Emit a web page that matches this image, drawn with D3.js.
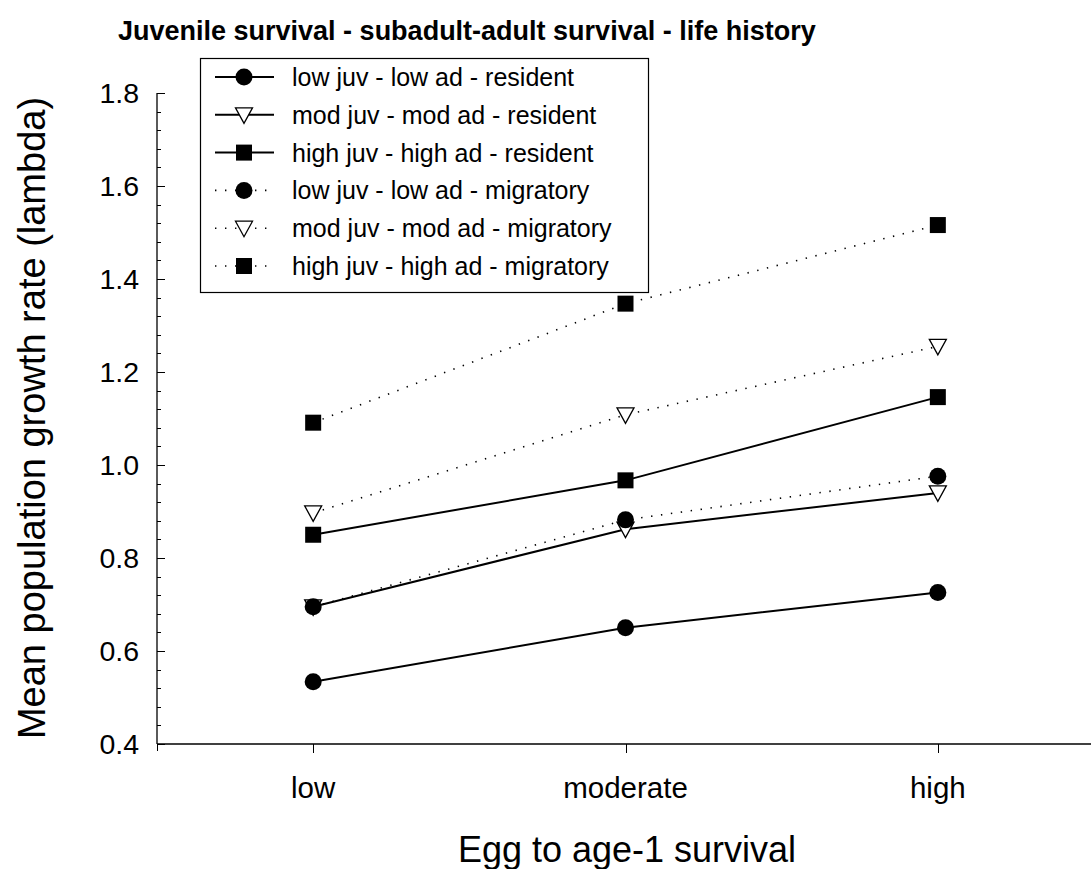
<!DOCTYPE html>
<html>
<head>
<meta charset="utf-8">
<script src="https://cdn.jsdelivr.net/npm/d3@7"></script>
<style>
  body { margin: 0; background: #fff; }
  text { font-family: Arial, "Liberation Sans", sans-serif; fill: #000; }
</style>
</head>
<body>
<svg width="1091" height="869"></svg>
<script>
var svg = d3.select("svg");

// data
var categories = ["low", "moderate", "high"];
var yTicks = [0.4, 0.6, 0.8, 1.0, 1.2, 1.4, 1.6, 1.8];

var lowRes  = [0.534, 0.650, 0.726];
var modRes  = [0.695, 0.862, 0.940];
var highRes = [0.850, 0.967, 1.146];
var lowMig  = [0.695, 0.882, 0.976];
var modMig  = [0.897, 1.108, 1.255];
var highMig = [1.091, 1.347, 1.516];

var seriesNames = [
  "low juv - low ad - resident",
  "mod juv - mod ad - resident",
  "high juv - high ad - resident",
  "low juv - low ad - migratory",
  "mod juv - mod ad - migratory",
  "high juv - high ad - migratory"
];
var seriesValues = [lowRes, modRes, highRes, lowMig, modMig, highMig];
var seriesSymbols = ["circle", "triangle", "square", "circle", "triangle", "square"];
var seriesDotted = [false, false, false, true, true, true];

var series = seriesNames.map(function(name, i) {
  return { name: name, values: seriesValues[i], symbol: seriesSymbols[i], dotted: seriesDotted[i] };
});

var x = d3.scalePoint().domain(categories).range([157, 1094]).padding(0.5);
var y = d3.scaleLinear().domain([0.4, 1.8]).range([744, 93]);

// title
svg.append("text")
    .attr("x", 118)
    .attr("y", 40)
    .style("font-size", "27px")
    .style("font-weight", "bold")
    .text("Juvenile survival - subadult-adult survival - life history");

// y axis: ticks inside, minor every 0.04
var yAxis = svg.append("g").attr("transform", "translate(157,0)");
yAxis.append("line")
    .attr("x1", 0).attr("x2", 0)
    .attr("y1", y(1.8)).attr("y2", y(0.4))
    .attr("stroke", "#000").attr("stroke-width", 1.3);
var minor = d3.range(0, 36).map(function(i) { return 0.4 + i * 0.04; });
yAxis.selectAll(".minor")
    .data(minor)
    .enter().append("line")
      .attr("x1", 0).attr("x2", 4)
      .attr("y1", function(d) { return Math.round(y(d)) + 0.5; })
      .attr("y2", function(d) { return Math.round(y(d)) + 0.5; })
      .attr("stroke", "#000");
yAxis.selectAll(".major")
    .data(yTicks)
    .enter().append("line")
      .attr("x1", 0).attr("x2", 8)
      .attr("y1", function(d) { return Math.round(y(d)) + 0.5; })
      .attr("y2", function(d) { return Math.round(y(d)) + 0.5; })
      .attr("stroke", "#000");
yAxis.selectAll(".lbl")
    .data(yTicks)
    .enter().append("text")
      .attr("x", -18)
      .attr("y", function(d) { return y(d); })
      .attr("dy", "0.36em")
      .attr("text-anchor", "end")
      .style("font-size", "28.5px")
      .text(function(d) { return d.toFixed(1); });

// x axis
var xAxis = svg.append("g").attr("transform", "translate(0,744)");
xAxis.append("line")
    .attr("x1", 157).attr("x2", 1091)
    .attr("y1", 0).attr("y2", 0)
    .attr("stroke", "#000").attr("stroke-width", 1.6);
xAxis.selectAll(".tick")
    .data(categories)
    .enter().append("line")
      .attr("x1", function(d) { return Math.round(x(d)) + 0.5; })
      .attr("x2", function(d) { return Math.round(x(d)) + 0.5; })
      .attr("y1", 0).attr("y2", 9)
      .attr("stroke", "#000");
xAxis.append("line")
    .attr("x1", 157.5).attr("x2", 157.5)
    .attr("y1", 0).attr("y2", 7)
    .attr("stroke", "#000");
xAxis.selectAll(".lbl")
    .data(categories)
    .enter().append("text")
      .attr("x", function(d) { return x(d); })
      .attr("y", 54)
      .attr("text-anchor", "middle")
      .style("font-size", "29.5px")
      .text(function(d) { return d; });

// axis titles
svg.append("text")
    .attr("x", 627)
    .attr("y", 862)
    .attr("text-anchor", "middle")
    .style("font-size", "36px")
    .text("Egg to age-1 survival");

svg.append("text")
    .attr("transform", "translate(45,418) rotate(-90)")
    .attr("text-anchor", "middle")
    .style("font-size", "38px")
    .text("Mean population growth rate (lambda)");

// markers
function drawSymbol(g, kind, cx, cy) {
  if (kind === "circle") {
    g.append("circle").attr("cx", cx).attr("cy", cy).attr("r", 8.5).attr("fill", "#000");
  } else if (kind === "square") {
    g.append("rect").attr("x", cx - 8).attr("y", cy - 8)
      .attr("width", 16).attr("height", 16).attr("fill", "#000");
  } else {
    g.append("path")
      .attr("d", "M" + (cx - 8.5) + "," + (cy - 7) + "L" + (cx + 8.5) + "," + (cy - 7) + "L" + cx + "," + (cy + 8.5) + "Z")
      .attr("fill", "#fff").attr("stroke", "#000").attr("stroke-width", 1.3);
  }
}

var line = d3.line()
    .x(function(d, i) { return x(categories[i]); })
    .y(function(d) { return y(d); });

var plot = svg.append("g");
series.forEach(function(s) {
  plot.append("path")
      .attr("d", line(s.values))
      .attr("fill", "none")
      .attr("stroke", "#000")
      .attr("stroke-width", s.dotted ? 1.6 : 2)
      .attr("stroke-dasharray", s.dotted ? "1.4,8.6" : null);
});
series.forEach(function(s) {
  s.values.forEach(function(v, i) {
    drawSymbol(plot, s.symbol, x(categories[i]), y(v));
  });
});

// legend
var legend = svg.append("g");
legend.append("rect")
    .attr("x", 200.5).attr("y", 58.5)
    .attr("width", 448).attr("height", 234)
    .attr("fill", "#fff").attr("stroke", "#000").attr("stroke-width", 1.2);
series.forEach(function(s, i) {
  var cy = 77 + i * 37.8;
  legend.append("line")
      .attr("x1", 215).attr("x2", 274)
      .attr("y1", cy).attr("y2", cy)
      .attr("stroke", "#000")
      .attr("stroke-width", s.dotted ? 1.6 : 2)
      .attr("stroke-dasharray", s.dotted ? "1.4,8.6" : null);
  drawSymbol(legend, s.symbol, 244, cy);
  legend.append("text")
      .attr("x", 292)
      .attr("y", cy)
      .attr("dy", "0.36em")
      .style("font-size", "25px")
      .text(s.name);
});
</script>
</body>
</html>
